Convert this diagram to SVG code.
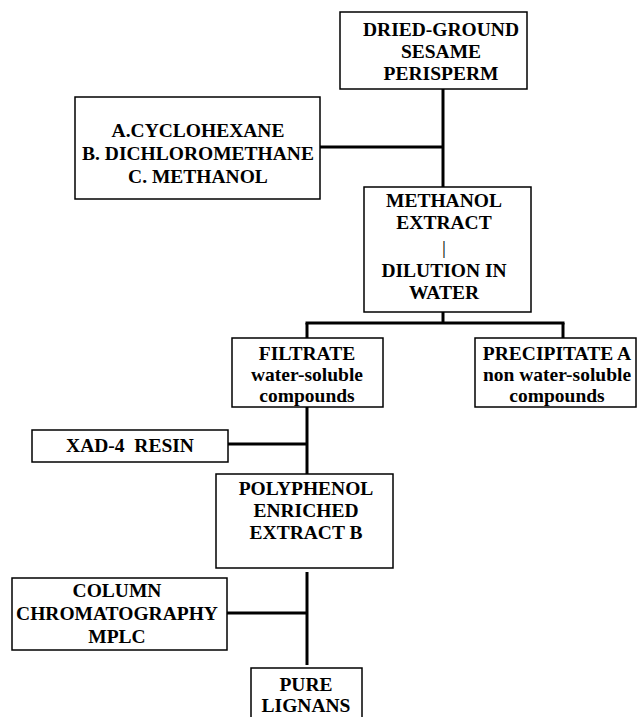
<svg xmlns="http://www.w3.org/2000/svg" width="640" height="717" viewBox="0 0 640 717">
<style>
  .box { fill: #ffffff; stroke: #000000; stroke-width: 1.5; }
  text { font-family: 'Liberation Serif', 'Times New Roman', Times, serif; font-weight: 700; font-size: 19.5px; fill: #000000; text-anchor: middle; }
  .c { stroke: #000000; stroke-width: 3; fill: none; }
</style>
<rect width="640" height="717" fill="#ffffff"/>
<g id="connectors">
  <line class="c" x1="443" y1="89" x2="443" y2="187"/>
  <line class="c" x1="320" y1="147" x2="443" y2="147"/>
  <line class="c" x1="443" y1="312" x2="443" y2="323"/>
  <line class="c" x1="305.5" y1="323" x2="564.5" y2="323"/>
  <line class="c" x1="307" y1="323" x2="307" y2="338"/>
  <line class="c" x1="563" y1="323" x2="563" y2="338"/>
  <line class="c" x1="307" y1="407" x2="307" y2="474"/>
  <line class="c" x1="228" y1="444" x2="307" y2="444"/>
  <line class="c" x1="307" y1="572" x2="307" y2="665"/>
  <line class="c" x1="227" y1="613" x2="307" y2="613"/>
</g>
<g id="dried-ground">
  <rect class="box" x="340" y="12" width="187" height="77"/>
  <text x="441" y="36" font-family="Liberation Serif">DRIED-GROUND</text>
  <text x="441" y="58" font-family="Liberation Serif">SESAME</text>
  <text x="441" y="80" font-family="Liberation Serif">PERISPERM</text>
</g>
<g id="solvents">
  <rect class="box" x="75" y="97" width="245" height="102"/>
  <text x="198" y="137">A.CYCLOHEXANE</text>
  <text x="198" y="160">B. DICHLOROMETHANE</text>
  <text x="198" y="183">C. METHANOL</text>
</g>
<g id="methanol-extract">
  <rect class="box" x="364" y="187" width="167" height="125"/>
  <text x="444" y="207">METHANOL</text>
  <text x="444" y="229">EXTRACT</text>
  <text x="444" y="254" style="font-weight:400">|</text>
  <text x="444" y="277">DILUTION IN</text>
  <text x="444" y="299">WATER</text>
</g>
<g id="filtrate">
  <rect class="box" x="232" y="338" width="151" height="69"/>
  <text x="307" y="360">FILTRATE</text>
  <text x="307" y="381">water-soluble</text>
  <text x="307" y="402">compounds</text>
</g>
<g id="precipitate">
  <rect class="box" x="475" y="338" width="161" height="69"/>
  <text x="557" y="360">PRECIPITATE A</text>
  <text x="557" y="381">non water-soluble</text>
  <text x="557" y="402">compounds</text>
</g>
<g id="xad">
  <rect class="box" x="32" y="430" width="196" height="32"/>
  <text x="130" y="452" xml:space="preserve">XAD-4  RESIN</text>
</g>
<g id="polyphenol">
  <rect class="box" x="216" y="474" width="177" height="94"/>
  <text x="306" y="495">POLYPHENOL</text>
  <text x="306" y="517">ENRICHED</text>
  <text x="306" y="539">EXTRACT B</text>
</g>
<g id="column">
  <rect class="box" x="12" y="578" width="215" height="72"/>
  <text x="117" y="597">COLUMN</text>
  <text x="117" y="620">CHROMATOGRAPHY</text>
  <text x="117" y="643">MPLC</text>
</g>
<g id="pure-lignans">
  <rect class="box" x="251" y="668" width="111" height="60"/>
  <text x="306" y="691">PURE</text>
  <text x="306" y="712">LIGNANS</text>
</g>
</svg>
